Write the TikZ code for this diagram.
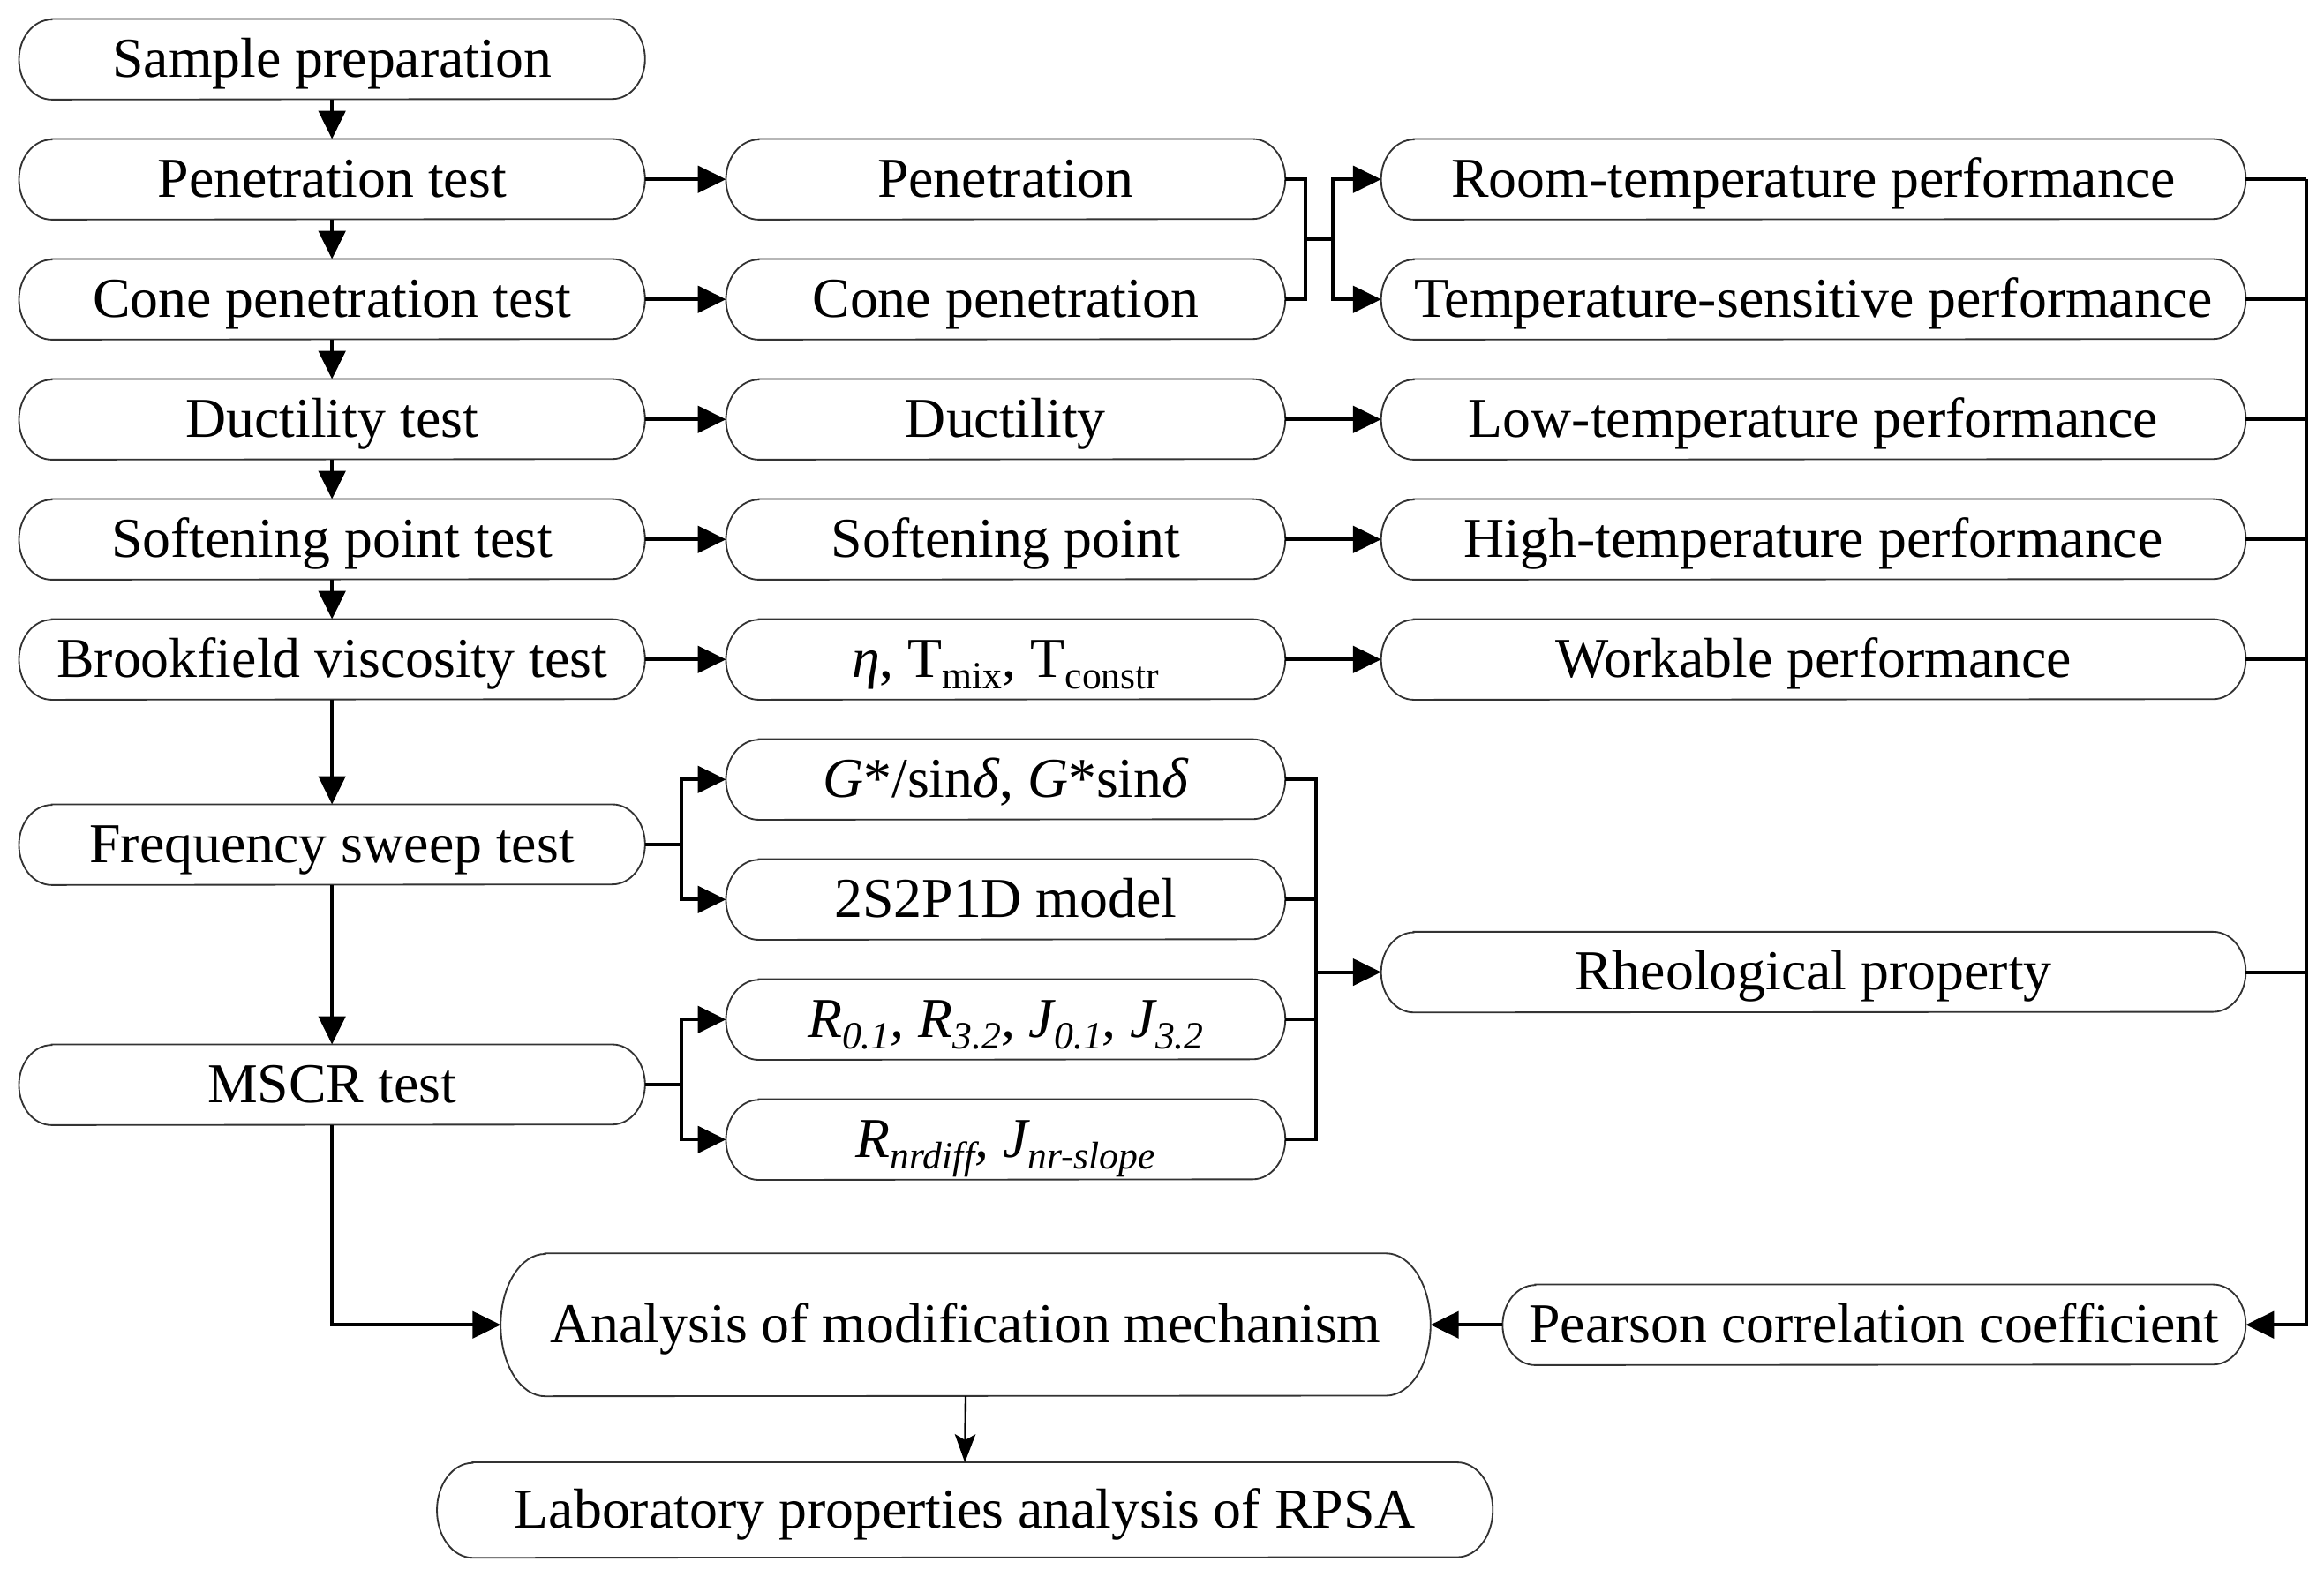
\documentclass[tikz,border=0pt]{standalone}
\usepackage{fontspec}
\setmainfont{Liberation Serif}
\usetikzlibrary{arrows.meta}
\newcommand{\lsub}[1]{\raisebox{-0.2em}{\fontsize{26}{26}\selectfont #1}}
% draw a pill outline with elliptical ends around a node: name, x radius, y radius
\newcommand{\pill}[3]{%
  \draw[boxline] ([xshift=#2]#1.north west) -- ([xshift=-#2]#1.north east)
    arc[start angle=90, end angle=-90, x radius=#2, y radius=#3]
    -- ([xshift=#2]#1.south west)
    arc[start angle=270, end angle=90, x radius=#2, y radius=#3] -- cycle;}
\begin{document}
\begin{tikzpicture}[x=1pt,y=-1pt,
  boxline/.style={draw=black!80, line width=1.1pt},
  box/.style={minimum height=54pt, inner sep=0pt, text height=26pt, text depth=2pt,
    font=\fontsize{38}{40}\selectfont, anchor=center},
  cA/.style={box, minimum width=422pt},
  cB/.style={box, minimum width=377pt},
  cC/.style={box, minimum width=583pt},
  conn/.style={line width=2.4pt, -{Triangle[length=19pt,width=18pt]}},
  ln/.style={line width=2.4pt},
]
\useasboundingbox (0,0) rectangle (1568,1063.6);

% column 1
\node[cA] (sp)   at (224,40)  {Sample preparation};
\node[cA] (pt)   at (224,121) {Penetration test};
\node[cA] (cpt)  at (224,202) {Cone penetration test};
\node[cA] (dt)   at (224,283) {Ductility test};
\node[cA] (spt)  at (224,364) {Softening point test};
\node[cA] (bvt)  at (224,445) {Brookfield viscosity test};
\node[cA] (fst)  at (224,570) {Frequency sweep test};
\node[cA] (mscr) at (224,732) {MSCR test};

% column 2
\node[cB] (pen)  at (678.5,121) {Penetration};
\node[cB] (cpen) at (678.5,202) {Cone penetration};
\node[cB] (duc)  at (678.5,283) {Ductility};
\node[cB] (sof)  at (678.5,364) {Softening point};
\node[cB] (eta)  at (678.5,445) {{\itshape η}, T\lsub{mix}, T\lsub{constr}};
\node[cB] (gs)   at (678.5,526) {{\itshape G}*/sin{\itshape δ}, {\itshape G}*sin{\itshape δ}};
\node[cB] (mod)  at (678.5,607) {2S2P1D model};
\node[cB] (rj)   at (678.5,688) {\itshape R\lsub{0.1}, R\lsub{3.2}, J\lsub{0.1}, J\lsub{3.2}};
\node[cB] (rnr)  at (678.5,769) {\itshape R\lsub{nrdiff}, J\lsub{nr-slope}};

% column 3
\node[cC] (room) at (1223.5,121) {Room-temperature performance};
\node[cC] (tsp)  at (1223.5,202) {Temperature-sensitive performance};
\node[cC] (low)  at (1223.5,283) {Low-temperature performance};
\node[cC] (high) at (1223.5,364) {High-temperature performance};
\node[cC] (work) at (1223.5,445) {Workable performance};
\node[cC] (rheo) at (1223.5,656) {Rheological property};

% bottom
\node[box, minimum width=501pt] (pear) at (1264.5,894) {Pearson correlation coefficient};
\node[box, minimum width=627pt, minimum height=96pt] (ana) at (651.5,894) {Analysis of modification mechanism};
\node[box, minimum width=712pt, minimum height=64pt] (lab) at (651,1019) {Laboratory properties analysis of RPSA};

% outlines
\foreach \n in {sp,pt,cpt,dt,spt,bvt,fst,mscr,pen,cpen,duc,sof,eta,gs,mod,rj,rnr,room,tsp,low,high,work,rheo,pear}
  {\pill{\n}{22pt}{27pt}}
\pill{ana}{30pt}{48pt}
\pill{lab}{24pt}{32pt}

% vertical chain
\foreach \a/\b in {sp/pt, pt/cpt, cpt/dt, dt/spt, spt/bvt, bvt/fst, fst/mscr}
  \draw[conn] (\a.south) -- (\b.north);

% horizontal arrows
\foreach \a/\b in {pt/pen, cpt/cpen, dt/duc, spt/sof, bvt/eta, duc/low, sof/high, eta/work}
  \draw[conn] (\a.east) -- (\b.west);

% frequency sweep fork
\coordinate (fj) at (460,570);
\draw[ln] (fst.east) -- (fj);
\draw[conn] (fj) |- (gs.west);
\draw[conn] (fj) |- (mod.west);

% MSCR fork
\coordinate (mj) at (460,732);
\draw[ln] (mscr.east) -- (mj);
\draw[conn] (mj) |- (rj.west);
\draw[conn] (mj) |- (rnr.west);

% penetration / cone penetration merge
\coordinate (m1) at (881,161.5);
\coordinate (m2) at (899,161.5);
\draw[ln] (pen.east) -- (pen.east -| m1) -- (cpen.east -| m1) -- (cpen.east);
\draw[ln] (m1) -- (m2);
\draw[conn] (m2) |- (room.west);
\draw[conn] (m2) |- (tsp.west);

% rheology bus
\coordinate (rb) at (888,656);
\draw[ln] (gs.east) -- (gs.east -| rb) -- (rnr.east -| rb) -- (rnr.east);
\draw[ln] (mod.east) -- (mod.east -| rb);
\draw[ln] (rj.east) -- (rj.east -| rb);
\draw[conn] (rb) -- (rheo.west);

% right bus
\coordinate (rbx) at (1556,0);
\foreach \n in {room, tsp, low, high, work, rheo}
  \draw[ln] (\n.east) -- (\n.east -| rbx);
\draw[conn] (room.east -| rbx) |- (pear.east);

% bottom arrows
\draw[conn] (pear.west) -- (ana.east);
\draw[conn] (mscr.south) |- (ana.west);
\draw[line width=1.4pt, -{Stealth[length=19pt,width=14pt,inset=4pt]}] (ana.south) -- (lab.north);
\end{tikzpicture}
\end{document}
